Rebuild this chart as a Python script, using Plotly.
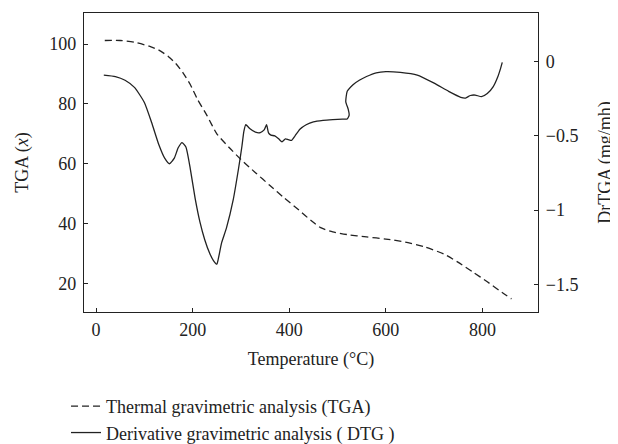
import plotly.graph_objects as go

# TGA (dashed, left axis, %)
tga_temp = [18, 50, 80, 110, 130, 150, 165, 180, 195, 210, 230, 250, 275, 300, 330, 360, 390, 420, 445, 465, 490, 520, 560, 600, 640, 680, 720, 750, 780, 810, 840, 860]
tga_val = [101.2, 101.2, 100.6, 99.3, 98.0, 95.8, 93.5, 90.4, 86.5, 81.5, 76.0, 70.0, 65.5, 61.4, 57.0, 52.7, 48.5, 44.5, 41.0, 38.6, 37.2, 36.3, 35.5, 34.8, 33.8, 32.2, 29.8, 27.0, 23.8, 20.5, 17.0, 14.8]

# DTG (solid, right axis, mg/mh)
dtg_temp = [16, 40, 60, 80, 100, 115, 130, 142, 152, 162, 170, 178, 186, 195, 205, 215, 225, 235, 243, 250, 253, 260, 270, 284, 295, 302, 306, 310, 318, 330, 340, 348, 353, 357, 362, 370, 378, 385, 392, 398, 405, 412, 422, 435, 450, 470, 490, 510, 520, 524, 522, 517, 520, 532, 545, 560, 580, 600, 630, 665, 700, 730, 755, 765, 775, 785, 798, 810, 822, 832, 838, 841]
dtg_val = [-0.090, -0.100, -0.125, -0.175, -0.275, -0.41, -0.56, -0.65, -0.688, -0.65, -0.58, -0.545, -0.575, -0.72, -0.92, -1.08, -1.2, -1.29, -1.34, -1.365, -1.33, -1.22, -1.12, -0.93, -0.72, -0.57, -0.47, -0.425, -0.45, -0.475, -0.478, -0.46, -0.425, -0.48, -0.495, -0.5, -0.52, -0.54, -0.52, -0.525, -0.53, -0.5, -0.455, -0.425, -0.405, -0.395, -0.39, -0.387, -0.386, -0.36, -0.32, -0.27, -0.2, -0.155, -0.125, -0.1, -0.075, -0.067, -0.072, -0.09, -0.145, -0.2, -0.24, -0.245, -0.228, -0.225, -0.236, -0.215, -0.17, -0.1, -0.04, -0.005]

x_ticks = [0, 200, 400, 600, 800]
y_ticks = [20, 40, 60, 80, 100]
y2_ticks = [0, -0.5, -1, -1.5]
y2_labels = ["0", "\u22120.5", "\u22121", "\u22121.5"]

FONT = "Liberation Serif"
INK = "#222222"
FS = 18

fig = go.Figure()
fig.add_trace(go.Scatter(
    x=tga_temp, y=tga_val, mode="lines", name="Thermal gravimetric analysis (TGA)",
    line=dict(color=INK, width=1.3, dash="7px,4px", shape="spline", smoothing=0.6),
    yaxis="y"))
fig.add_trace(go.Scatter(
    x=dtg_temp, y=dtg_val, mode="lines", name="Derivative gravimetric analysis ( DTG )",
    line=dict(color=INK, width=1.3, shape="spline", smoothing=0.5),
    yaxis="y2"))

axis_common = dict(showgrid=False, zeroline=False, showline=True, linecolor=INK,
                   linewidth=1.3, ticks="inside", ticklen=4, tickcolor=INK, tickwidth=1,
                   automargin=False,
                   tickfont=dict(family=FONT, size=FS, color=INK))

fig.update_layout(
    width=610, height=436,
    margin=dict(l=76, r=80, t=5, b=132, autoexpand=False),
    paper_bgcolor="white", plot_bgcolor="white",
    font=dict(family=FONT, size=FS, color=INK),
    xaxis=dict(range=[-25, 915], tickvals=x_ticks, mirror=True, ticklabelstandoff=1,
               title=dict(text="Temperature (\u00b0C)", font=dict(family=FONT, size=FS, color=INK), standoff=13),
               **axis_common),
    yaxis=dict(range=[10.4, 110.4], tickvals=y_ticks, ticklabelstandoff=3,
               title=dict(text="TGA (<i>x</i>)", font=dict(family=FONT, size=FS, color=INK), standoff=15),
               **axis_common),
    yaxis2=dict(range=[-1.687, 0.328], tickvals=y2_ticks, ticktext=y2_labels, ticklabelstandoff=3,
                overlaying="y", side="right",
                title=dict(text="DrTGA (mg/mh)", font=dict(family=FONT, size=FS, color=INK), standoff=20),
                **axis_common),
    showlegend=True,
    legend=dict(x=-0.0396, y=-0.254, xanchor="left", yanchor="top", orientation="v",
                font=dict(family=FONT, size=FS, color=INK), bgcolor="rgba(0,0,0,0)",
                tracegroupgap=0, itemwidth=30),
)

fig.write_html("out.html")
